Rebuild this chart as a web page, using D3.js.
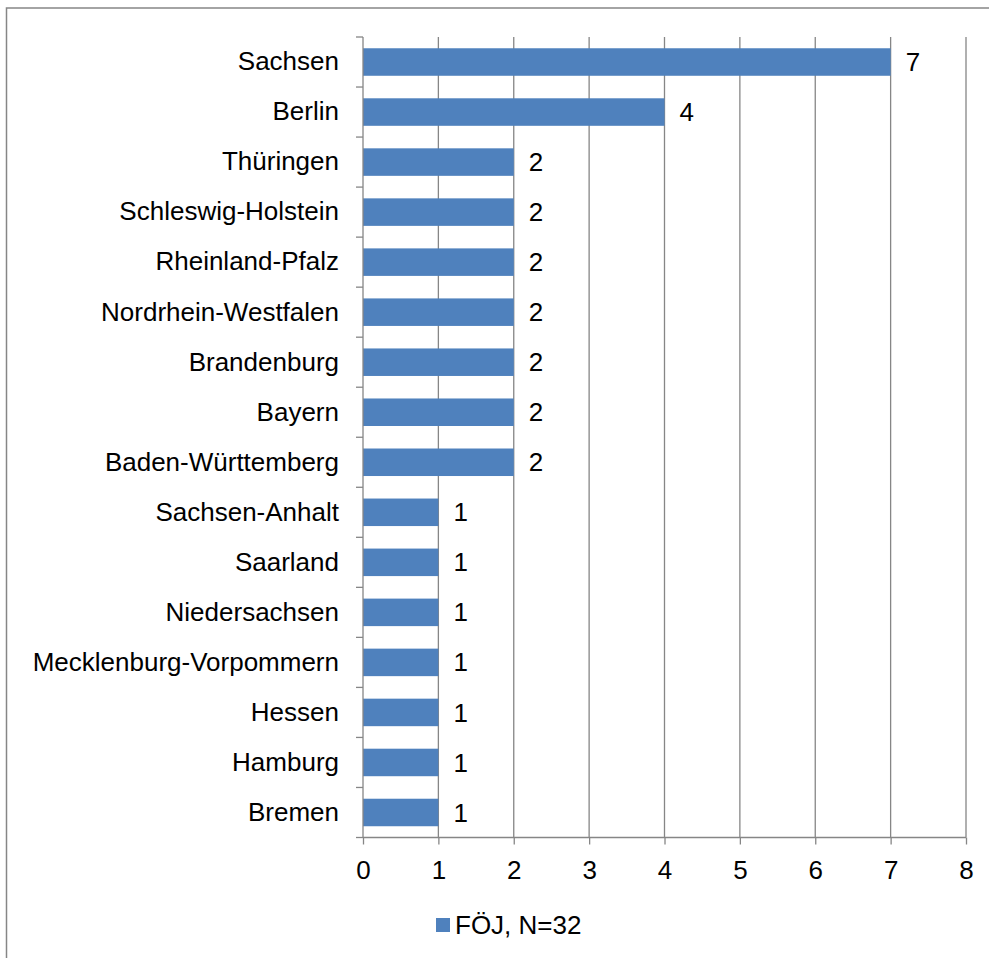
<!DOCTYPE html>
<html>
<head>
<meta charset="utf-8">
<script src="https://cdn.jsdelivr.net/npm/d3@7"></script>
<style>
  html, body { margin: 0; padding: 0; background: #fff; }
  svg { display: block; }
  text { font-family: "Liberation Sans", Arial, sans-serif; fill: #000; }
</style>
</head>
<body>
<div id="chart"></div>
<script>
const categories = ["Sachsen", "Berlin", "Thüringen", "Schleswig-Holstein", "Rheinland-Pfalz",
  "Nordrhein-Westfalen", "Brandenburg", "Bayern", "Baden-Württemberg", "Sachsen-Anhalt",
  "Saarland", "Niedersachsen", "Mecklenburg-Vorpommern", "Hessen", "Hamburg", "Bremen"];
const values = [7, 4, 2, 2, 2, 2, 2, 2, 2, 1, 1, 1, 1, 1, 1, 1];
const xTicks = [0, 1, 2, 3, 4, 5, 6, 7, 8];
const seriesName = "FÖJ, N=32";

(function () {
const W = 989, H = 958;
const pLeft = 363, pRight = 966, pTop = 37, pBottom = 837.5;
const gray = "#868686", barColor = "#4F81BD";
const fs = 26;

const svg = d3.select("#chart").append("svg").attr("width", W).attr("height", H);

// outer frame
svg.append("rect").attr("x", 6.5).attr("y", 8).attr("width", W + 10).attr("height", H + 10)
  .attr("fill", "#fff").attr("stroke", gray).attr("stroke-width", 1.5);

const x = d3.scaleLinear().domain([0, 8]).range([pLeft, pRight]);
const y = d3.scaleBand().domain(categories).range([pTop, pBottom]).paddingInner(0.45).paddingOuter(0.225);

// vertical gridlines
svg.append("g").selectAll("line").data(xTicks.slice(1)).join("line")
  .attr("x1", d => x(d)).attr("x2", d => x(d))
  .attr("y1", pTop).attr("y2", pBottom)
  .attr("stroke", gray).attr("stroke-width", 1.3);

// bars
svg.append("g").selectAll("rect").data(values).join("rect")
  .attr("x", x(0))
  .attr("y", (d, i) => y(categories[i]))
  .attr("width", d => x(d) - x(0))
  .attr("height", y.bandwidth())
  .attr("fill", barColor);

// value labels
svg.append("g").selectAll("text").data(values).join("text")
  .attr("x", d => x(d) + 15)
  .attr("y", (d, i) => y(categories[i]) + y.bandwidth() / 2)
  .attr("dy", "0.35em")
  .attr("font-size", fs)
  .text(d => d);

// x axis
const xAxis = d3.axisBottom(x).tickValues(xTicks).tickSize(7).tickPadding(16).tickFormat(d3.format("d"));
const gx = svg.append("g").attr("transform", `translate(0,${pBottom})`).call(xAxis);
gx.select(".domain").attr("stroke", gray).attr("stroke-width", 1.3).attr("d", `M${pLeft},0H${pRight}`);
gx.selectAll(".tick line").attr("stroke", gray).attr("stroke-width", 1.3);
gx.selectAll(".tick text").attr("font-size", fs).attr("font-family", "Liberation Sans, Arial, sans-serif").attr("fill", "#000");

// y axis (category)
const yAxis = d3.axisLeft(y).tickSize(0).tickPadding(24);
const gy = svg.append("g").attr("transform", `translate(${pLeft},0)`).call(yAxis);
gy.select(".domain").attr("stroke", gray).attr("stroke-width", 1.3).attr("d", `M0,${pTop}V${pBottom}`);
gy.selectAll(".tick text").attr("font-size", fs).attr("font-family", "Liberation Sans, Arial, sans-serif").attr("fill", "#000");
// category boundary ticks
const bounds = d3.range(categories.length + 1).map(i => pTop + i * y.step());
gy.append("g").selectAll("line").data(bounds).join("line")
  .attr("x1", -7).attr("x2", 0).attr("y1", d => d).attr("y2", d => d)
  .attr("stroke", gray).attr("stroke-width", 1.3);

// legend
const lg = svg.append("g").attr("transform", "translate(436,918)");
lg.append("rect").attr("width", 14).attr("height", 14).attr("fill", barColor);
lg.append("text").attr("x", 19).attr("y", 7).attr("dy", "0.35em").attr("font-size", fs).text(seriesName);
})();
</script>
</body>
</html>
